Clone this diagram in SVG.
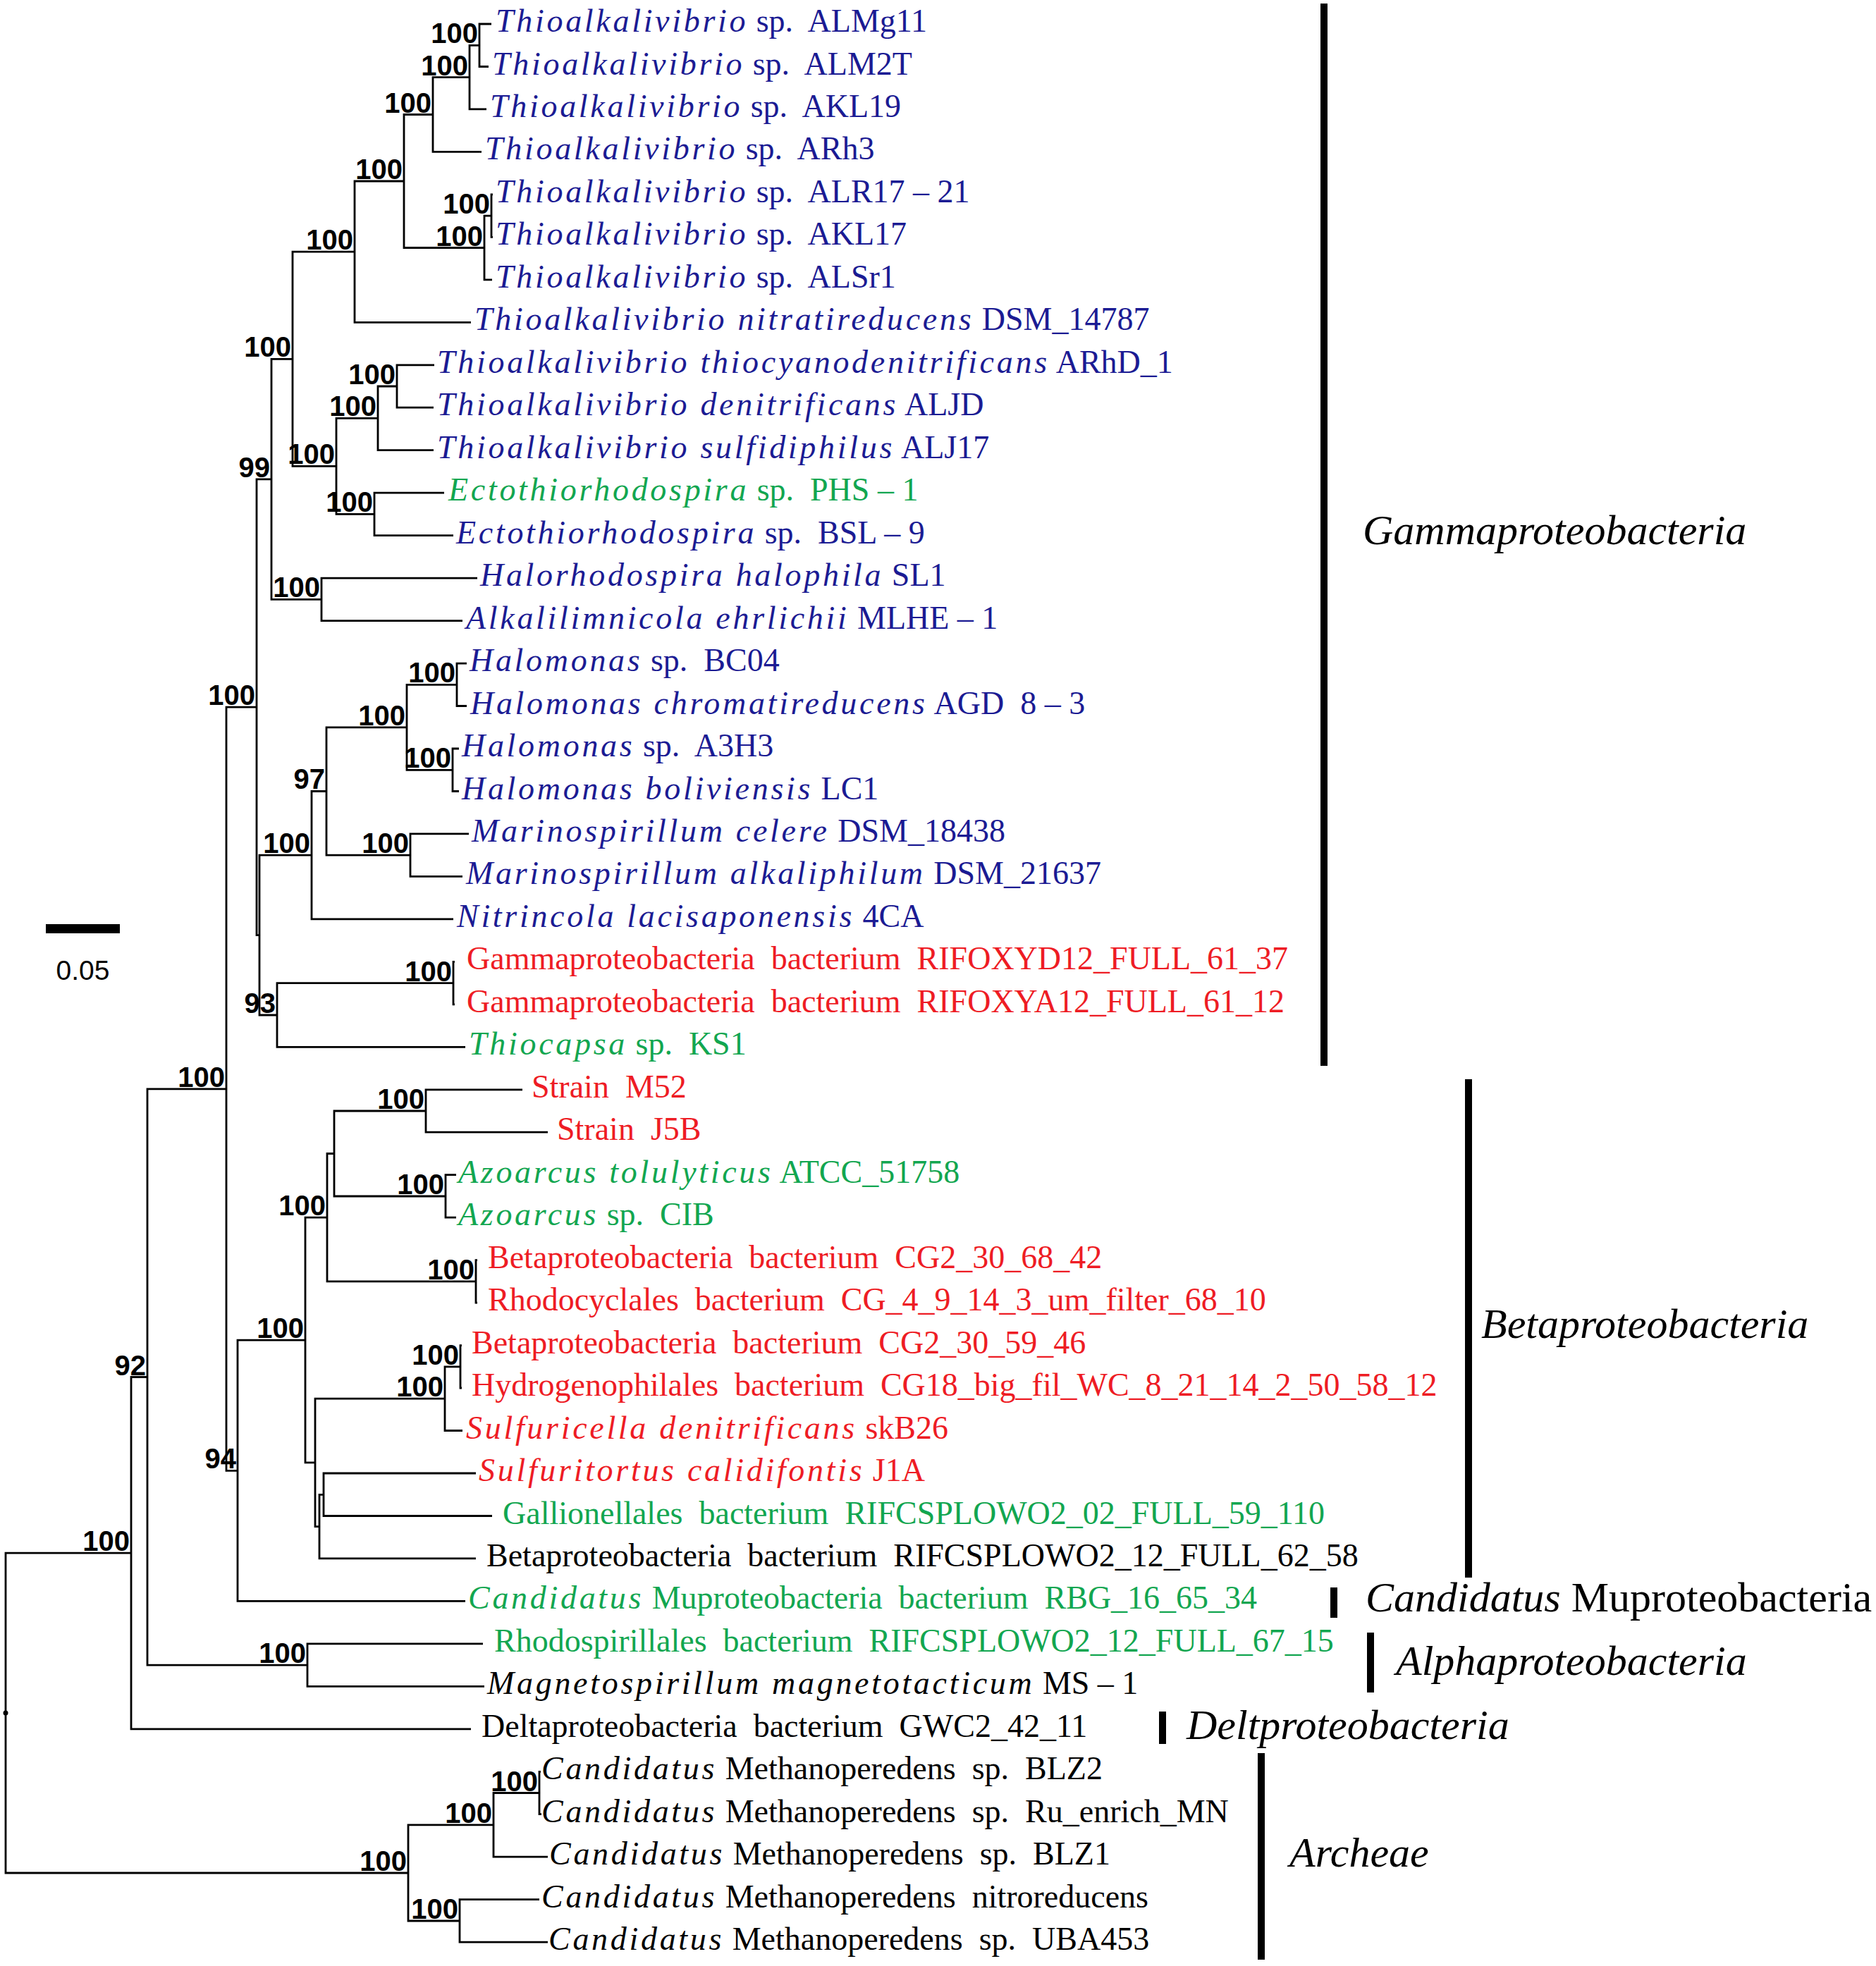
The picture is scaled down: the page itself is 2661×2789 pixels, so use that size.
<svg xmlns="http://www.w3.org/2000/svg" width="2661" height="2789" viewBox="0 0 2661 2789">
<style>
.t{font-family:"Liberation Serif","Times New Roman",serif;font-size:46px;white-space:pre}
.i{font-style:italic;letter-spacing:3.7px}
.bs{font-family:"Liberation Sans",Arial,sans-serif;font-weight:bold;font-size:40px;text-anchor:end;fill:#000}
.grp{font-family:"Liberation Serif","Times New Roman",serif;font-size:60px;fill:#000}
.gi{font-style:italic}
.bl{fill:#1b1b93}.gr{fill:#12a650}.rd{fill:#ee1c24}.bk{fill:#000}
.tree{fill:none;stroke:#000;stroke-width:2.8;stroke-linejoin:miter;stroke-linecap:butt}
.bar{fill:#000}
</style>
<rect width="2661" height="2789" fill="#fff"/>
<g id="connectors" class="tree">
<path d="M697 34H680V94.5H693"/>
<path d="M680 64.3H666V154.9H690"/>
<path d="M666 109.6H614V215.4H683"/>
<path d="M699 275.9H697V336.4H699"/>
<path d="M697 306.1H687V396.8H698"/>
<path d="M614 162.5H573V351.5H687"/>
<path d="M573 257H503V457.3H668"/>
<path d="M616 517.8H563V578.2H615"/>
<path d="M563 548H536V638.7H615"/>
<path d="M630 699.2H531V759.6H643"/>
<path d="M536 593.4H477V729.4H531"/>
<path d="M503 357.1H415V661.4H477"/>
<path d="M677 820.1H456V880.6H656"/>
<path d="M415 509.3H385V850.3H456"/>
<path d="M662 941.1H648V1001.5H662"/>
<path d="M651 1062H642V1122.5H651"/>
<path d="M648 971.3H577V1092.3H642"/>
<path d="M665 1182.9H582V1243.4H656"/>
<path d="M577 1031.8H463V1213.2H582"/>
<path d="M463 1122.5H442V1303.9H643"/>
<path d="M645 1364.3H643V1424.8H645"/>
<path d="M643 1394.6H393V1485.3H660"/>
<path d="M442 1213.2H368V1440H393"/>
<path d="M385 679.8H364V1326.6H368"/>
<path d="M741 1545.8H604V1606.2H777"/>
<path d="M647 1666.7H632V1727.2H647"/>
<path d="M604 1576H474V1697H632"/>
<path d="M677 1787.6H675V1848.1H677"/>
<path d="M474 1636.5H464V1817.9H675"/>
<path d="M655 1908.6H653V1969H655"/>
<path d="M653 1938.8H631V2029.5H656"/>
<path d="M675 2090H459V2150.5H698"/>
<path d="M459 2120.3H453V2210.9H675"/>
<path d="M631 1984.2H447V2165.6H453"/>
<path d="M464 1727.2H433V2074.9H447"/>
<path d="M433 1901.1H337V2271.4H660"/>
<path d="M364 1003.2H321V2086.3H337"/>
<path d="M685 2331.9H436V2392.3H687"/>
<path d="M321 1544.8H209V2362.1H436"/>
<path d="M209 1953.5H186V2452.8H668"/>
<path d="M767 2513.3H765V2573.7H768"/>
<path d="M765 2543.5H700V2634.2H777"/>
<path d="M765 2694.7H652V2755.2H777"/>
<path d="M700 2588.9H579V2725H652"/>
<path d="M186 2203.2H8V2657H579"/>
</g>
<circle id="root" cx="8" cy="2430" r="3.5" fill="#000"/>
<g id="bootstrap">
<g id="node-A"><text class="bs" x="678" y="61">100</text></g>
<g id="node-B"><text class="bs" x="664" y="107">100</text></g>
<g id="node-C"><text class="bs" x="612" y="160">100</text></g>
<g id="node-D"><text class="bs" x="571" y="254">100</text></g>
<g id="node-E"><text class="bs" x="685" y="349">100</text></g>
<g id="node-F"><text class="bs" x="695" y="303">100</text></g>
<g id="node-H"><text class="bs" x="501" y="354">100</text></g>
<g id="node-G"><text class="bs" x="413" y="506">100</text></g>
<g id="node-L"><text class="bs" x="475" y="658">100</text></g>
<g id="node-M"><text class="bs" x="534" y="590">100</text></g>
<g id="node-O"><text class="bs" x="561" y="545">100</text></g>
<g id="node-N"><text class="bs" x="529" y="726">100</text></g>
<g id="node-J"><text class="bs" x="454" y="847">100</text></g>
<g id="node-I"><text class="bs" x="383" y="677">99</text></g>
<g id="node-K"><text class="bs" x="362" y="1000">100</text></g>
<g id="node-R"><text class="bs" x="440" y="1210">100</text></g>
<g id="node-U"><text class="bs" x="461" y="1119">97</text></g>
<g id="node-V"><text class="bs" x="575" y="1029">100</text></g>
<g id="node-W"><text class="bs" x="646" y="968">100</text></g>
<g id="node-X"><text class="bs" x="640" y="1089">100</text></g>
<g id="node-Mar"><text class="bs" x="580" y="1210">100</text></g>
<g id="node-S"><text class="bs" x="391" y="1437">93</text></g>
<g id="node-T"><text class="bs" x="641" y="1392">100</text></g>
<g id="node-P"><text class="bs" x="319" y="1542">100</text></g>
<g id="node-AA"><text class="bs" x="335" y="2083">94</text></g>
<g id="node-AD"><text class="bs" x="431" y="1898">100</text></g>
<g id="node-AE"><text class="bs" x="462" y="1724">100</text></g>
<g id="node-AG"><text class="bs" x="602" y="1573">100</text></g>
<g id="node-AH"><text class="bs" x="630" y="1694">100</text></g>
<g id="node-AI"><text class="bs" x="673" y="1815">100</text></g>
<g id="node-AK"><text class="bs" x="629" y="1981">100</text></g>
<g id="node-AM"><text class="bs" x="651" y="1936">100</text></g>
<g id="node-AB"><text class="bs" x="434" y="2359">100</text></g>
<g id="node-Y"><text class="bs" x="207" y="1951">92</text></g>
<g id="node-Z"><text class="bs" x="184" y="2200">100</text></g>
<g id="node-AO"><text class="bs" x="577" y="2654">100</text></g>
<g id="node-AP"><text class="bs" x="698" y="2586">100</text></g>
<g id="node-AQ"><text class="bs" x="763" y="2541">100</text></g>
<g id="node-AR"><text class="bs" x="650" y="2722">100</text></g>
</g>
<g id="leaves">
<g id="leaf-01"><text class="t bl" x="703" y="45"><tspan class="i">Thioalkalivibrio</tspan> sp.&#160; ALMg11</text></g>
<g id="leaf-02"><text class="t bl" x="698" y="106"><tspan class="i">Thioalkalivibrio</tspan> sp.&#160; ALM2T</text></g>
<g id="leaf-03"><text class="t bl" x="695" y="166"><tspan class="i">Thioalkalivibrio</tspan> sp.&#160; AKL19</text></g>
<g id="leaf-04"><text class="t bl" x="688" y="226"><tspan class="i">Thioalkalivibrio</tspan> sp.&#160; ARh3</text></g>
<g id="leaf-05"><text class="t bl" x="703" y="287"><tspan class="i">Thioalkalivibrio</tspan> sp.&#160; ALR17 – 21</text></g>
<g id="leaf-06"><text class="t bl" x="703" y="347"><tspan class="i">Thioalkalivibrio</tspan> sp.&#160; AKL17</text></g>
<g id="leaf-07"><text class="t bl" x="703" y="408"><tspan class="i">Thioalkalivibrio</tspan> sp.&#160; ALSr1</text></g>
<g id="leaf-08"><text class="t bl" x="673" y="468"><tspan class="i">Thioalkalivibrio nitratireducens</tspan> DSM_14787</text></g>
<g id="leaf-09"><text class="t bl" x="620" y="529"><tspan class="i">Thioalkalivibrio thiocyanodenitrificans</tspan> ARhD_1</text></g>
<g id="leaf-10"><text class="t bl" x="620" y="589"><tspan class="i">Thioalkalivibrio denitrificans</tspan> ALJD</text></g>
<g id="leaf-11"><text class="t bl" x="620" y="650"><tspan class="i">Thioalkalivibrio sulfidiphilus</tspan> ALJ17</text></g>
<g id="leaf-12"><text class="t gr" x="636" y="710"><tspan class="i">Ectothiorhodospira</tspan> sp.&#160; PHS – 1</text></g>
<g id="leaf-13"><text class="t bl" x="647" y="771"><tspan class="i">Ectothiorhodospira</tspan> sp.&#160; BSL – 9</text></g>
<g id="leaf-14"><text class="t bl" x="681" y="831"><tspan class="i">Halorhodospira halophila</tspan> SL1</text></g>
<g id="leaf-15"><text class="t bl" x="661" y="892"><tspan class="i">Alkalilimnicola ehrlichii</tspan> MLHE – 1</text></g>
<g id="leaf-16"><text class="t bl" x="666" y="952"><tspan class="i">Halomonas</tspan> sp.&#160; BC04</text></g>
<g id="leaf-17"><text class="t bl" x="667" y="1013"><tspan class="i">Halomonas chromatireducens</tspan> AGD&#160; 8 – 3</text></g>
<g id="leaf-18"><text class="t bl" x="655" y="1073"><tspan class="i">Halomonas</tspan> sp.&#160; A3H3</text></g>
<g id="leaf-19"><text class="t bl" x="655" y="1134"><tspan class="i">Halomonas boliviensis</tspan> LC1</text></g>
<g id="leaf-20"><text class="t bl" x="669" y="1194"><tspan class="i">Marinospirillum celere</tspan> DSM_18438</text></g>
<g id="leaf-21"><text class="t bl" x="661" y="1254"><tspan class="i">Marinospirillum alkaliphilum</tspan> DSM_21637</text></g>
<g id="leaf-22"><text class="t bl" x="648" y="1315"><tspan class="i">Nitrincola lacisaponensis</tspan> 4CA</text></g>
<g id="leaf-23"><text class="t rd" x="662" y="1375">Gammaproteobacteria&#160; bacterium&#160; RIFOXYD12_FULL_61_37</text></g>
<g id="leaf-24"><text class="t rd" x="662" y="1436">Gammaproteobacteria&#160; bacterium&#160; RIFOXYA12_FULL_61_12</text></g>
<g id="leaf-25"><text class="t gr" x="665" y="1496"><tspan class="i">Thiocapsa</tspan> sp.&#160; KS1</text></g>
<g id="leaf-26"><text class="t rd" x="754" y="1557">Strain&#160; M52</text></g>
<g id="leaf-27"><text class="t rd" x="790" y="1617">Strain&#160; J5B</text></g>
<g id="leaf-28"><text class="t gr" x="650" y="1678"><tspan class="i">Azoarcus tolulyticus</tspan> ATCC_51758</text></g>
<g id="leaf-29"><text class="t gr" x="650" y="1738"><tspan class="i">Azoarcus</tspan> sp.&#160; CIB</text></g>
<g id="leaf-30"><text class="t rd" x="692" y="1799">Betaproteobacteria&#160; bacterium&#160; CG2_30_68_42</text></g>
<g id="leaf-31"><text class="t rd" x="692" y="1859">Rhodocyclales&#160; bacterium&#160; CG_4_9_14_3_um_filter_68_10</text></g>
<g id="leaf-32"><text class="t rd" x="669" y="1920">Betaproteobacteria&#160; bacterium&#160; CG2_30_59_46</text></g>
<g id="leaf-33"><text class="t rd" x="669" y="1980">Hydrogenophilales&#160; bacterium&#160; CG18_big_fil_WC_8_21_14_2_50_58_12</text></g>
<g id="leaf-34"><text class="t rd" x="661" y="2041"><tspan class="i">Sulfuricella denitrificans</tspan> skB26</text></g>
<g id="leaf-35"><text class="t rd" x="679" y="2101"><tspan class="i">Sulfuritortus calidifontis</tspan> J1A</text></g>
<g id="leaf-36"><text class="t gr" x="713" y="2162">Gallionellales&#160; bacterium&#160; RIFCSPLOWO2_02_FULL_59_110</text></g>
<g id="leaf-37"><text class="t bk" x="690" y="2222">Betaproteobacteria&#160; bacterium&#160; RIFCSPLOWO2_12_FULL_62_58</text></g>
<g id="leaf-38"><text class="t gr" x="664" y="2282"><tspan class="i">Candidatus</tspan> Muproteobacteria&#160; bacterium&#160; RBG_16_65_34</text></g>
<g id="leaf-39"><text class="t gr" x="701" y="2343">Rhodospirillales&#160; bacterium&#160; RIFCSPLOWO2_12_FULL_67_15</text></g>
<g id="leaf-40"><text class="t bk" x="691" y="2403"><tspan class="i">Magnetospirillum magnetotacticum</tspan> MS – 1</text></g>
<g id="leaf-41"><text class="t bk" x="683" y="2464">Deltaproteobacteria&#160; bacterium&#160; GWC2_42_11</text></g>
<g id="leaf-42"><text class="t bk" x="768" y="2524"><tspan class="i">Candidatus</tspan> Methanoperedens&#160; sp.&#160; BLZ2</text></g>
<g id="leaf-43"><text class="t bk" x="768" y="2585"><tspan class="i">Candidatus</tspan> Methanoperedens&#160; sp.&#160; Ru_enrich_MN</text></g>
<g id="leaf-44"><text class="t bk" x="779" y="2645"><tspan class="i">Candidatus</tspan> Methanoperedens&#160; sp.&#160; BLZ1</text></g>
<g id="leaf-45"><text class="t bk" x="768" y="2706"><tspan class="i">Candidatus</tspan> Methanoperedens&#160; nitroreducens</text></g>
<g id="leaf-46"><text class="t bk" x="778" y="2766"><tspan class="i">Candidatus</tspan> Methanoperedens&#160; sp.&#160; UBA453</text></g>
</g>
<g id="groups">
<g id="grp-gamma"><rect class="bar" x="1873" y="5" width="10" height="1507"/><text class="grp gi" x="1933" y="772">Gammaproteobacteria</text></g>
<g id="grp-beta"><rect class="bar" x="2078" y="1531" width="10" height="707"/><text class="grp gi" x="2101" y="1898">Betaproteobacteria</text></g>
<g id="grp-mu"><rect class="bar" x="1887" y="2252" width="10" height="43"/><text class="grp" x="1937" y="2286"><tspan class="gi">Candidatus</tspan> Muproteobacteria</text></g>
<g id="grp-alpha"><rect class="bar" x="1939" y="2316" width="10" height="85"/><text class="grp gi" x="1980" y="2376">Alphaproteobacteria</text></g>
<g id="grp-delta"><rect class="bar" x="1644" y="2428" width="10" height="46"/><text class="grp gi" x="1683" y="2467">Deltproteobacteria</text></g>
<g id="grp-arch"><rect class="bar" x="1784" y="2487" width="10" height="293"/><text class="grp gi" x="1829" y="2648">Archeae</text></g>
</g>
<g id="scale">
<rect x="65" y="1311" width="105" height="13" fill="#000"/>
<text x="117.5" y="1390" text-anchor="middle" style="font-family:'Liberation Sans',Arial,sans-serif;font-size:39px;fill:#000">0.05</text>
</g>
</svg>
